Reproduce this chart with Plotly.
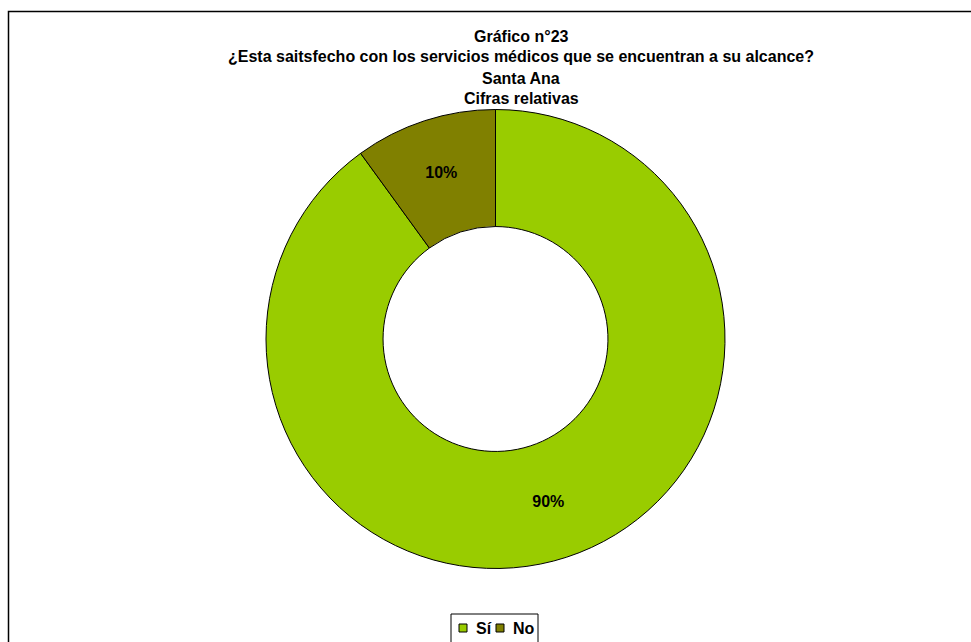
import plotly.graph_objects as go

# Survey answers and their relative shares (%)
labels = ["Sí", "No"]
values = [90, 10]
colors = ["#99CC00", "#808000"]

title_lines = [
    "Gráfico n°23",
    "¿Esta saitsfecho con los servicios médicos que se encuentran a su alcance?",
    "Santa Ana",
    "Cifras relativas",
]

W, H = 971, 642
FONT = "Liberation Sans, Arial, sans-serif"


def px_x(x):
    return x / W


def px_y(y):
    return 1 - y / H


fig = go.Figure(
    go.Pie(
        labels=labels,
        values=values,
        hole=0.49,
        sort=False,
        direction="clockwise",
        rotation=0,
        marker=dict(colors=colors, line=dict(color="black", width=1)),
        texttemplate="%{percent:.0%}",
        textposition="inside",
        insidetextorientation="horizontal",
        textfont=dict(family=FONT, size=16, color="black", weight="bold"),
        domain=dict(x=[px_x(266), px_x(725)], y=[px_y(569), px_y(109)]),
        hoverinfo="label+percent",
        showlegend=False,
    )
)

# Title lines, stacked and centred over the whole chart area
title_y = [36, 57, 78, 99]
for text, y in zip(title_lines, title_y):
    fig.add_annotation(
        text=text,
        x=px_x(521), y=px_y(y),
        xref="paper", yref="paper",
        xanchor="center", yanchor="middle",
        showarrow=False,
        font=dict(family=FONT, size=16, color="black", weight="bold"),
    )

# Chart frame
fig.add_shape(
    type="rect",
    xref="paper", yref="paper",
    x0=px_x(8.5), x1=1.05, y0=-0.05, y1=px_y(11.5),
    line=dict(color="black", width=1.5),
    fillcolor="rgba(0,0,0,0)",
)

# Compact legend: framed box with small square swatches
legend_box = (451, 614, 538)
swatch_x = [459, 496]
text_x = [474, 511]
legend_y = 628
fig.add_shape(
    type="rect",
    xref="paper", yref="paper",
    x0=px_x(legend_box[0]), x1=px_x(legend_box[2]),
    y0=-0.05, y1=px_y(legend_box[1]),
    line=dict(color="black", width=1),
    fillcolor="white",
)
for lab, col, sx, tx in zip(labels, colors, swatch_x, text_x):
    fig.add_shape(
        type="rect",
        xref="paper", yref="paper",
        x0=px_x(sx), x1=px_x(sx + 8),
        y0=px_y(legend_y + 4), y1=px_y(legend_y - 4),
        line=dict(color="black", width=1),
        fillcolor=col,
    )
    fig.add_annotation(
        text=lab,
        x=px_x(tx), y=px_y(legend_y),
        xref="paper", yref="paper",
        xanchor="left", yanchor="middle",
        showarrow=False,
        font=dict(family=FONT, size=16, color="black", weight="bold"),
    )

fig.update_layout(
    width=W, height=H,
    margin=dict(l=0, r=0, t=0, b=0),
    paper_bgcolor="white",
    plot_bgcolor="white",
    showlegend=False,
)

fig.write_html("out.html")
